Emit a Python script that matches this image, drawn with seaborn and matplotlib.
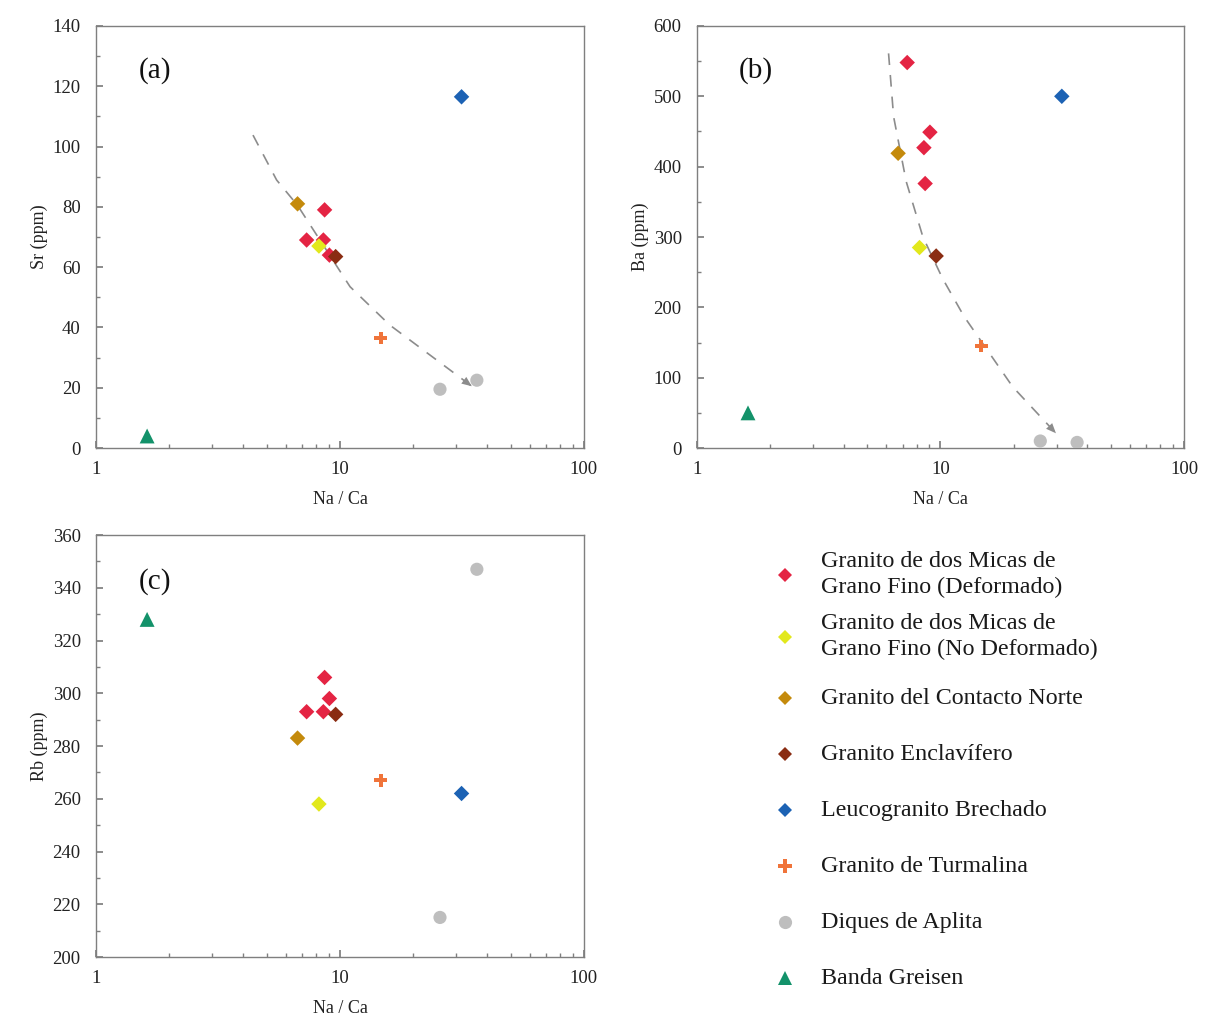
import numpy as np
import pandas as pd
import matplotlib
matplotlib.use("Agg")
import matplotlib.pyplot as plt
from matplotlib.lines import Line2D
from matplotlib.ticker import MultipleLocator, LogLocator, FixedLocator, NullFormatter
import seaborn as sns

# ---- data: Na/Ca ratio and trace elements (ppm) per lithology ----
groups = [
    "Granito de dos Micas de\nGrano Fino (Deformado)",
    "Granito de dos Micas de\nGrano Fino (No Deformado)",
    "Granito del Contacto Norte",
    "Granito Enclavífero",
    "Leucogranito Brechado",
    "Granito de Turmalina",
    "Diques de Aplita",
    "Banda Greisen",
]
colors = ["#E42443", "#E2E81C", "#C48A0C", "#8A2C12", "#1C62B4", "#F0743A", "#BEBEBE", "#13926A"]
markers = ["D", "D", "D", "D", "D", "P", "o", "^"]

na_ca = [
    [7.3, 9.05, 8.55, 8.65],
    [8.2],
    [6.7],
    [9.6],
    [31.5],
    [14.7],
    [25.7, 36.4],
    [1.62],
]
sr = [
    [69, 64, 69, 79],
    [67],
    [81],
    [63.5],
    [116.5],
    [36.5],
    [19.5, 22.5],
    [4],
]
ba = [
    [548, 449, 427, 376],
    [285],
    [419],
    [273],
    [500],
    [145],
    [10, 8],
    [50],
]
rb = [
    [293, 298, 293, 306],
    [258],
    [283],
    [292],
    [262],
    [267],
    [215, 347],
    [328],
]

# trend arrows (Na/Ca, ppm) drawn as dashed guides
trend_sr_x = [4.4, 5.5, 6.7, 11.0, 16.0, 34.7]
trend_sr_y = [103.8, 88.9, 80.5, 53.5, 40.8, 20.5]
trend_ba_x = [6.12, 6.42, 7.23, 8.47, 10.2, 12.5, 19.8, 29.8]
trend_ba_y = [561, 471, 379, 300, 241, 187, 87, 21]

# ---- tidy table ----
rows = []
for g, xs, s, b, r in zip(groups, na_ca, sr, ba, rb):
    for i in range(len(xs)):
        rows.append({"grupo": g, "NaCa": xs[i], "Sr": s[i], "Ba": b[i], "Rb": r[i]})
df = pd.DataFrame(rows)

palette = dict(zip(groups, colors))
marker_map = dict(zip(groups, markers))
size_map = {"D": 62, "P": 85, "o": 90, "^": 115}

sns.set_theme(style="ticks")
plt.rcParams["font.family"] = ["Liberation Serif", "DejaVu Serif"]

fig = plt.figure(figsize=(12.09, 10.22), dpi=100)
ax_a = fig.add_axes([0.0794, 0.5616, 0.4036, 0.413])
ax_b = fig.add_axes([0.5765, 0.5616, 0.4028, 0.413])
ax_c = fig.add_axes([0.0794, 0.0636, 0.4036, 0.4129])

spine_col = "#7F7F7F"
text_col = "#222222"


def style_axis(ax, ymin, ymax, ymaj, ylabel, tag, tag_y):
    ax.set_xscale("log")
    ax.set_xlim(1, 100)
    ax.set_ylim(ymin, ymax)
    ax.yaxis.set_major_locator(MultipleLocator(ymaj))
    ax.yaxis.set_minor_locator(MultipleLocator(ymaj / 2))
    ax.xaxis.set_major_locator(FixedLocator([1, 10, 100]))
    ax.set_xticklabels(["1", "10", "100"])
    ax.xaxis.set_minor_locator(LogLocator(base=10, subs=np.arange(2, 10)))
    ax.xaxis.set_minor_formatter(NullFormatter())
    for sp in ax.spines.values():
        sp.set_visible(True)
        sp.set_color(spine_col)
        sp.set_linewidth(1.0)
    ax.tick_params(which="both", direction="in", colors=spine_col, labelcolor=text_col,
                   labelsize=13.5, top=False, right=False)
    ax.tick_params(which="major", length=5)
    ax.tick_params(which="minor", length=3)
    ax.tick_params(axis="x", pad=9)
    ax.tick_params(axis="y", pad=11)
    ax.set_xlabel("Na / Ca", fontsize=13, color=text_col, labelpad=10)
    ax.set_ylabel(ylabel, fontsize=13, color=text_col, labelpad=3)
    ax.text(0.121, tag_y, tag, transform=ax.transAxes, fontsize=21, color="#111111",
            va="center", ha="center")


def draw_points(ax, ycol):
    for g in groups:
        sub = df[df["grupo"] == g]
        m = marker_map[g]
        sns.scatterplot(data=sub, x="NaCa", y=ycol, ax=ax, color=palette[g], marker=m,
                        s=size_map[m], edgecolor="none", linewidth=0, legend=False, zorder=3)


def draw_trend(ax, xs, ys):
    ax.plot(xs, ys, color="#8C8C8C", lw=1.2, ls=(0, (7, 6)), zorder=2)
    ax.annotate("", xy=(xs[-1], ys[-1]), xytext=(xs[-2], ys[-2]),
                arrowprops=dict(arrowstyle="-|>,head_length=0.6,head_width=0.25",
                                color="#8C8C8C", lw=0, shrinkA=0, shrinkB=0),
                zorder=2)


draw_trend(ax_a, trend_sr_x, trend_sr_y)
draw_points(ax_a, "Sr")
style_axis(ax_a, 0, 140, 20, "Sr (ppm)", "(a)", 0.895)

draw_trend(ax_b, trend_ba_x, trend_ba_y)
draw_points(ax_b, "Ba")
style_axis(ax_b, 0, 600, 100, "Ba (ppm)", "(b)", 0.895)

draw_points(ax_c, "Rb")
style_axis(ax_c, 200, 360, 20, "Rb (ppm)", "(c)", 0.89)

# key in the empty lower-right quadrant, one row per lithology
W, H = 1209.0, 1022.0
key_rows = [575, 637, 698, 754, 810, 866, 922, 978]
key_marker_x = 785
key_text_x = 821
for g, yrow in zip(groups, key_rows):
    m = marker_map[g]
    ms = {"D": 7, "P": 9.5, "o": 9.5, "^": 10}[m]
    fig.add_artist(Line2D([key_marker_x / W], [1 - yrow / H], ls="none", marker=m,
                          color=palette[g], markersize=ms, markeredgewidth=0,
                          transform=fig.transFigure))
    fig.text(key_text_x / W, 1 - yrow / H, g, fontsize=17.3, color="#1A1A1A",
             ha="left", va="center", linespacing=1.3)

fig.savefig("out.png", dpi=100, facecolor="white")
